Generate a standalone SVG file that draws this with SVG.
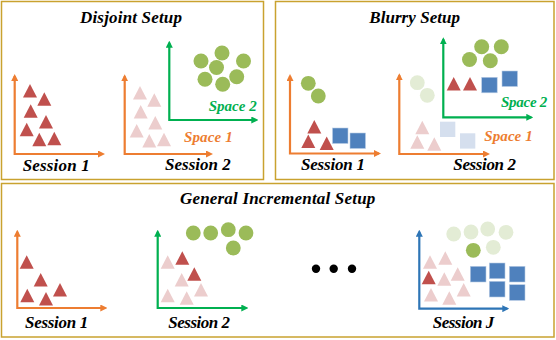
<svg xmlns="http://www.w3.org/2000/svg" xmlns:xlink="http://www.w3.org/1999/xlink" width="556" height="340" viewBox="0 0 556 340">
<style>
.panel{fill:#fff;stroke:#C9A22F;stroke-width:1.5}
.t{font-family:"Liberation Serif","Times New Roman",serif;font-weight:bold;font-style:italic;fill:#000}
.title{font-size:17px}
.sess{font-size:17px}
.sp{font-family:"Liberation Serif","Times New Roman",serif;font-style:italic;font-weight:bold;font-size:15px}
.ax{fill:none;stroke-width:2.2}
.axo{stroke:#ED7D31}
.axg{stroke:#00B050}
.axb{stroke:#2E75B6}
.dr{fill:#C0504D}
.pk{fill:#ECCDCD}
.gc{fill:#9BBB59}
.lg{fill:#E3ECD5}
.bs{fill:#4F81BD;stroke:#B9CCE4;stroke-width:0.6}
.lb{fill:#D5DFEE}
</style>
<defs>
<path id="tri" d="M0,0 L7,13.5 L-7,13.5 Z"/>
<marker id="mo" viewBox="0 0 7 7" refX="5" refY="3.5" markerWidth="7" markerHeight="7" markerUnits="userSpaceOnUse" orient="auto-start-reverse"><path d="M0,0 L7,3.5 L0,7 Z" fill="#ED7D31"/></marker>
<marker id="mg" viewBox="0 0 7 7" refX="5" refY="3.5" markerWidth="7" markerHeight="7" markerUnits="userSpaceOnUse" orient="auto-start-reverse"><path d="M0,0 L7,3.5 L0,7 Z" fill="#00B050"/></marker>
<marker id="mb" viewBox="0 0 7 7" refX="5" refY="3.5" markerWidth="7" markerHeight="7" markerUnits="userSpaceOnUse" orient="auto-start-reverse"><path d="M0,0 L7,3.5 L0,7 Z" fill="#2E75B6"/></marker>
</defs>

<g id="panels">
<rect id="panel-disjoint" class="panel" x="1.5" y="1.5" width="262" height="178"/>
<rect id="panel-blurry" class="panel" x="275.5" y="1.5" width="278.5" height="178"/>
<rect id="panel-general" class="panel" x="1.5" y="183.5" width="552.5" height="153.5"/>
</g>

<g id="connectors">
<path class="ax axo" marker-start="url(#mo)" marker-end="url(#mo)" d="M14.7,76 L14.7,154 L103,154"/>
<path class="ax axo" marker-start="url(#mo)" marker-end="url(#mo)" d="M124.7,76.3 L124.7,154 L211,154"/>
<path class="ax axg" marker-start="url(#mg)" marker-end="url(#mg)" d="M169.3,42.7 L169.3,120 L256.3,120"/>
<path class="ax axo" marker-start="url(#mo)" marker-end="url(#mo)" d="M290,76 L290,153.5 L379,153.5"/>
<path class="ax axo" marker-start="url(#mo)" marker-end="url(#mo)" d="M399.3,75.3 L399.3,154 L488,154"/>
<path class="ax axg" marker-start="url(#mg)" marker-end="url(#mg)" d="M443.3,39.3 L443.3,117.3 L531.3,117.3"/>
<path class="ax axo" marker-start="url(#mo)" marker-end="url(#mo)" d="M17.3,231.7 L17.3,308 L105.3,308"/>
<path class="ax axg" marker-start="url(#mg)" marker-end="url(#mg)" d="M157.7,231.7 L157.7,308 L246.3,308"/>
<path class="ax axb" marker-start="url(#mb)" marker-end="url(#mb)" d="M419.3,231.7 L419.3,308.7 L507.3,308.7"/>
</g>

<g id="disjoint-setup">
<text class="t title" x="80" y="22.7" textLength="102" lengthAdjust="spacing">Disjoint Setup</text>
<g id="disjoint-session1">
<use href="#tri" class="dr" x="30" y="84"/>
<use href="#tri" class="dr" x="44.3" y="92.3"/>
<use href="#tri" class="dr" x="30.7" y="104.3"/>
<use href="#tri" class="dr" x="46" y="115"/>
<use href="#tri" class="dr" x="26.7" y="122.7"/>
<use href="#tri" class="dr" x="39.3" y="132.7"/>
<use href="#tri" class="dr" x="54.3" y="131.7"/>
<text class="t sess" x="22.7" y="171" textLength="67" lengthAdjust="spacing">Session 1</text>
</g>
<g id="disjoint-session2">
<use href="#tri" class="pk" x="140" y="86"/>
<use href="#tri" class="pk" x="154.3" y="93.3"/>
<use href="#tri" class="pk" x="140.7" y="105"/>
<use href="#tri" class="pk" x="155.3" y="116"/>
<use href="#tri" class="pk" x="136.7" y="124"/>
<use href="#tri" class="pk" x="149.3" y="134"/>
<use href="#tri" class="pk" x="164" y="132.7"/>
<circle class="gc" cx="201" cy="61" r="7.5"/>
<circle class="gc" cx="222" cy="53" r="7.5"/>
<circle class="gc" cx="243.5" cy="61" r="7.5"/>
<circle class="gc" cx="216.5" cy="67.5" r="7.5"/>
<circle class="gc" cx="205" cy="79.3" r="7.5"/>
<circle class="gc" cx="236.7" cy="76.7" r="7.5"/>
<circle class="gc" cx="222.7" cy="84.2" r="7.5"/>
<text class="sp" fill="#00B050" x="208.7" y="111" textLength="48" lengthAdjust="spacing">Space 2</text>
<text class="sp" fill="#ED7D31" x="184" y="142" textLength="48.7" lengthAdjust="spacing">Space 1</text>
<text class="t sess" x="165" y="170" textLength="65.7" lengthAdjust="spacing">Session 2</text>
</g>
</g>

<g id="blurry-setup">
<text class="t title" x="369.3" y="22.7" textLength="90.7" lengthAdjust="spacing">Blurry Setup</text>
<g id="blurry-session1">
<circle class="gc" cx="308.3" cy="83.3" r="7.4"/>
<circle class="gc" cx="318.3" cy="96" r="7.4"/>
<use href="#tri" class="dr" x="314.3" y="120"/>
<use href="#tri" class="dr" x="308.3" y="134.5"/>
<use href="#tri" class="dr" x="326.7" y="136.5"/>
<rect class="bs" x="332.5" y="128" width="15.5" height="15.5"/>
<rect class="bs" x="350" y="133" width="15.5" height="15.5"/>
<text class="t sess" x="301" y="170" textLength="64" lengthAdjust="spacing">Session 1</text>
</g>
<g id="blurry-session2">
<circle class="lg" cx="417.3" cy="82.7" r="7.4"/>
<circle class="lg" cx="427.3" cy="95.3" r="7.4"/>
<use href="#tri" class="pk" x="422.3" y="120.7"/>
<use href="#tri" class="pk" x="417.3" y="135.3"/>
<use href="#tri" class="pk" x="434.3" y="137.3"/>
<rect class="lb" x="440" y="121.7" width="15.3" height="15.3"/>
<rect class="lb" x="460" y="133.3" width="15.3" height="15.3"/>
<circle class="gc" cx="469.5" cy="59.5" r="7.5"/>
<circle class="gc" cx="481.7" cy="46.7" r="7.5"/>
<circle class="gc" cx="501.3" cy="46.7" r="7.5"/>
<circle class="gc" cx="490.3" cy="60.8" r="7.5"/>
<use href="#tri" class="dr" x="453.7" y="77"/>
<use href="#tri" class="dr" x="470" y="77"/>
<rect class="bs" x="481.7" y="77.3" width="15.5" height="15.5"/>
<rect class="bs" x="502" y="71" width="15.5" height="15.5"/>
<text class="sp" fill="#00B050" x="501" y="107.3" textLength="46.3" lengthAdjust="spacing">Space 2</text>
<text class="sp" fill="#ED7D31" x="484.3" y="141" textLength="48.4" lengthAdjust="spacing">Space 1</text>
<text class="t sess" x="453.3" y="170" textLength="62.7" lengthAdjust="spacing">Session 2</text>
</g>
</g>

<g id="general-setup">
<text class="t title" x="180" y="204" textLength="195.3" lengthAdjust="spacing">General Incremental Setup</text>
<g id="general-session1">
<use href="#tri" class="dr" x="26.7" y="255.3"/>
<use href="#tri" class="dr" x="40.7" y="273"/>
<use href="#tri" class="dr" x="60" y="283"/>
<use href="#tri" class="dr" x="27.3" y="288.7"/>
<use href="#tri" class="dr" x="46" y="292"/>
<text class="t sess" x="25" y="328" textLength="63.3" lengthAdjust="spacing">Session 1</text>
</g>
<g id="general-session2">
<circle class="gc" cx="193.3" cy="233" r="7.4"/>
<circle class="gc" cx="210.7" cy="233" r="7.4"/>
<circle class="gc" cx="228.3" cy="229.7" r="7.4"/>
<circle class="gc" cx="246" cy="233" r="7.4"/>
<circle class="gc" cx="233.3" cy="248" r="7.4"/>
<use href="#tri" class="pk" x="167.7" y="255.3"/>
<use href="#tri" class="pk" x="181.7" y="273"/>
<use href="#tri" class="pk" x="167.7" y="288.7"/>
<use href="#tri" class="pk" x="186.7" y="291.3"/>
<use href="#tri" class="pk" x="201" y="283"/>
<use href="#tri" class="dr" x="182.3" y="251.3"/>
<use href="#tri" class="dr" x="194.3" y="267.3"/>
<text class="t sess" x="168.3" y="328" textLength="61.7" lengthAdjust="spacing">Session 2</text>
</g>
<g id="ellipsis">
<circle cx="316" cy="268.7" r="4.2" fill="#000"/>
<circle cx="333.7" cy="268.7" r="4.2" fill="#000"/>
<circle cx="352" cy="268.7" r="4.2" fill="#000"/>
</g>
<g id="general-sessionJ">
<circle class="lg" cx="453.7" cy="234" r="7.4"/>
<circle class="lg" cx="471" cy="232" r="7.4"/>
<circle class="lg" cx="487.7" cy="229" r="7.4"/>
<circle class="lg" cx="506" cy="232.3" r="7.4"/>
<circle class="lg" cx="493.3" cy="247.3" r="7.4"/>
<circle class="gc" cx="473.3" cy="250.3" r="7.4"/>
<use href="#tri" class="pk" x="430" y="255.3"/>
<use href="#tri" class="pk" x="445.3" y="251.3"/>
<use href="#tri" class="pk" x="457.7" y="267.3"/>
<use href="#tri" class="pk" x="444.3" y="272.3"/>
<use href="#tri" class="pk" x="463.7" y="283"/>
<use href="#tri" class="pk" x="431" y="288"/>
<use href="#tri" class="pk" x="449.3" y="291.3"/>
<use href="#tri" class="dr" x="428.7" y="270.7"/>
<rect class="bs" x="470.3" y="266.3" width="15.7" height="15.7"/>
<rect class="bs" x="489.3" y="263" width="15.7" height="15.7"/>
<rect class="bs" x="509.3" y="266.3" width="15.7" height="15.7"/>
<rect class="bs" x="489.3" y="281.3" width="15.7" height="15.7"/>
<rect class="bs" x="509.3" y="284.7" width="15.7" height="15.7"/>
<text class="t sess" x="432.7" y="328" textLength="61.6" lengthAdjust="spacing">Session J</text>
</g>
</g>
</svg>
